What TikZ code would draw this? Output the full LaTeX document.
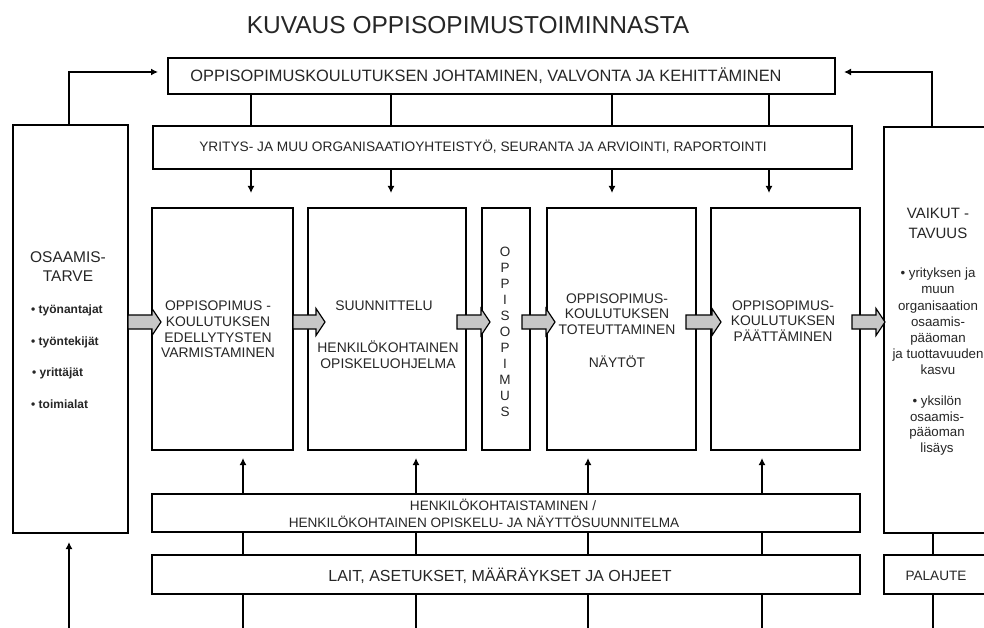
\documentclass[tikz,border=0pt]{standalone}
\usepackage{fontspec}
\setmainfont{Liberation Sans}
\usetikzlibrary{arrows.meta,calc}
\newcommand\barrow[4]{%
  \filldraw[barr] let \p1=(#1), \p2=(#3) in
    (\x1+#2pt,-315pt) -- (\x2+#4pt-9pt,-315pt) -- (\x2+#4pt-9pt,-308.5pt) --
    (\x2+#4pt,-322pt) -- (\x2+#4pt-9pt,-335.5pt) -- (\x2+#4pt-9pt,-329pt) --
    (\x1+#2pt,-329pt) -- cycle;}
\begin{document}
\begin{tikzpicture}[x=1pt,y=-1pt,
  box/.style={draw, line width=1.9pt, inner sep=0pt, outer sep=0pt, anchor=north west, fill=white},
  conn/.style={line width=1.4pt},
  arr/.style={line width=1.4pt, -{Latex[length=7pt,width=7pt]}},
  txt/.style={inner sep=0pt, text=black!85, align=center},
  bul/.style={inner sep=0pt, text=black!85, align=center, font=\bfseries\fontsize{12}{16.2}\selectfont},
  rbul/.style={inner sep=0pt, text=black!85, align=center, font=\fontsize{13.3}{16.2}\selectfont},
  mtxt/.style={txt, font=\fontsize{13.9}{15.6}\selectfont},
  barr/.style={draw, line width=1.2pt, fill=black!22, line join=miter},
]
\useasboundingbox (0,0) rectangle (984,628);
\fill[white] (0,0) rectangle (984,628);
\clip (0,0) rectangle (984,628);

% boxes
\node[box, minimum width=667, minimum height=36] (T) at (168,58) {};
\node[box, minimum width=699, minimum height=43] (S) at (153,126) {};
\node[box, minimum width=115, minimum height=408] (L) at (13,125) {};
\node[box, minimum width=130, minimum height=406] (R) at (884,127) {};
\node[box, minimum width=141, minimum height=242] (B1) at (152,208) {};
\node[box, minimum width=158, minimum height=242] (B2) at (308,208) {};
\node[box, minimum width=48, minimum height=242] (BO) at (482,208) {};
\node[box, minimum width=149, minimum height=242] (B4) at (547,208) {};
\node[box, minimum width=149, minimum height=242] (B5) at (711,208) {};
\node[box, minimum width=708, minimum height=38] (H) at (152,494) {};
\node[box, minimum width=708, minimum height=39] (LA) at (152,555) {};
\node[box, minimum width=130, minimum height=39] (P) at (884,555) {};

% connectors top -> second -> main boxes
\foreach \xx/\bb in {251/B1,391/B2,612/B4,769/B5}{
  \draw[conn] (T.south -| \xx,0) -- (S.north -| \xx,0);
  \draw[arr, shorten >=15pt] (S.south -| \xx,0) -- (\bb.north -| \xx,0);
}
% up arrows and lower connectors
\coordinate (bottom) at (0,628);
\foreach \xx/\bb in {243/B1,416/B2,588/B4,762/B5}{
  \draw[arr, shorten >=8pt] (H.north -| \xx,0) -- (\bb.south -| \xx,0);
  \draw[conn] (LA.north -| \xx,0) -- (H.south -| \xx,0);
  \draw[conn] (LA.south -| \xx,0) -- (bottom -| \xx,0);
}
% feedback arrows
\draw[arr, shorten >=10pt] (L.north -| 69,0) |- ([yshift=4pt]T.west);
\draw[arr, shorten >=9pt] (R.north -| 932,0) |- ([yshift=4pt]T.east);
\draw[arr, shorten >=9pt] (bottom -| 69,0) -- (L.south -| 69,0);
\draw[conn] (R.south -| 933,0) -- (P.north -| 933,0);
\draw[conn] (P.south -| 933,0) -- (bottom -| 933,0);

% block arrows
\barrow{L.east}{0}{B1.west}{9}
\barrow{B1.east}{0}{B2.west}{17}
\barrow{B2.east}{-9}{BO.west}{8}
\barrow{BO.east}{-8}{B4.west}{8}
\barrow{B4.east}{-10}{B5.west}{10}
\barrow{B5.east}{-8}{R.west}{1}

% texts
\node[txt, font=\fontsize{24.5}{28}\selectfont] (title) at (468,25.5) {KUVAUS OPPISOPIMUSTOIMINNASTA};
\node[txt, font=\fontsize{16.4}{19}\selectfont] (tT) at (486,76) {OPPISOPIMUSKOULUTUKSEN JOHTAMINEN, VALVONTA JA KEHITTÄMINEN};
\node[txt, font=\fontsize{13.7}{16}\selectfont] (tS) at (483,147) {YRITYS- JA MUU ORGANISAATIOYHTEISTYÖ, SEURANTA JA ARVIOINTI, RAPORTOINTI};
\node[txt, font=\fontsize{13.6}{16}\selectfont] (tH1) at (503,505) {HENKILÖKOHTAISTAMINEN /};
\node[txt, font=\fontsize{13.6}{16}\selectfont] (tH2) at (484,522) {HENKILÖKOHTAINEN OPISKELU- JA NÄYTTÖSUUNNITELMA};
\node[txt, font=\fontsize{16}{19}\selectfont] (tLA) at (500,576) {LAIT, ASETUKSET, MÄÄRÄYKSET JA OHJEET};
\node[txt, font=\fontsize{13.6}{16}\selectfont] (tP) at (936,576) {PALAUTE};

\node[txt, font=\fontsize{15.5}{19}\selectfont] (tL) at (68,266.5) {OSAAMIS-\\TARVE};
\node[bul, anchor=west] (l1) at (31,310) {• työnantajat};
\node[bul, anchor=west] (l2) at (31,342) {• työntekijät};
\node[bul, anchor=west] (l3) at (32,373) {• yrittäjät};
\node[bul, anchor=west] (l4) at (31,404) {• toimialat};

\node[mtxt] (t1) at (218,329.5) {OPPISOPIMUS -\\KOULUTUKSEN\\EDELLYTYSTEN\\VARMISTAMINEN};
\node[mtxt] (t2a) at (384,306) {SUUNNITTELU};
\node[mtxt] (t2b) at (388,355) {HENKILÖKOHTAINEN\\OPISKELUOHJELMA};
\node[txt, font=\fontsize{13.5}{16}\selectfont] (tO) at (505,332) {O\\P\\P\\I\\S\\O\\P\\I\\M\\U\\S};
\node[mtxt] (t4a) at (617,314) {OPPISOPIMUS-\\KOULUTUKSEN\\TOTEUTTAMINEN};
\node[mtxt] (t4b) at (617,362) {NÄYTÖT};
\node[mtxt] (t5) at (783,321) {OPPISOPIMUS-\\KOULUTUKSEN\\PÄÄTTÄMINEN};

\node[txt, font=\fontsize{15}{20}\selectfont] (tR) at (938,223) {VAIKUT -\\TAVUUS};
\node[rbul] (r1) at (938,321.5) {• yrityksen ja\\muun\\organisaation\\osaamis-\\pääoman\\ja tuottavuuden\\kasvu};
\node[rbul, font=\fontsize{13.3}{15.7}\selectfont] (r2) at (937,425.5) {• yksilön\\osaamis-\\pääoman\\lisäys};
\end{tikzpicture}
\end{document}
